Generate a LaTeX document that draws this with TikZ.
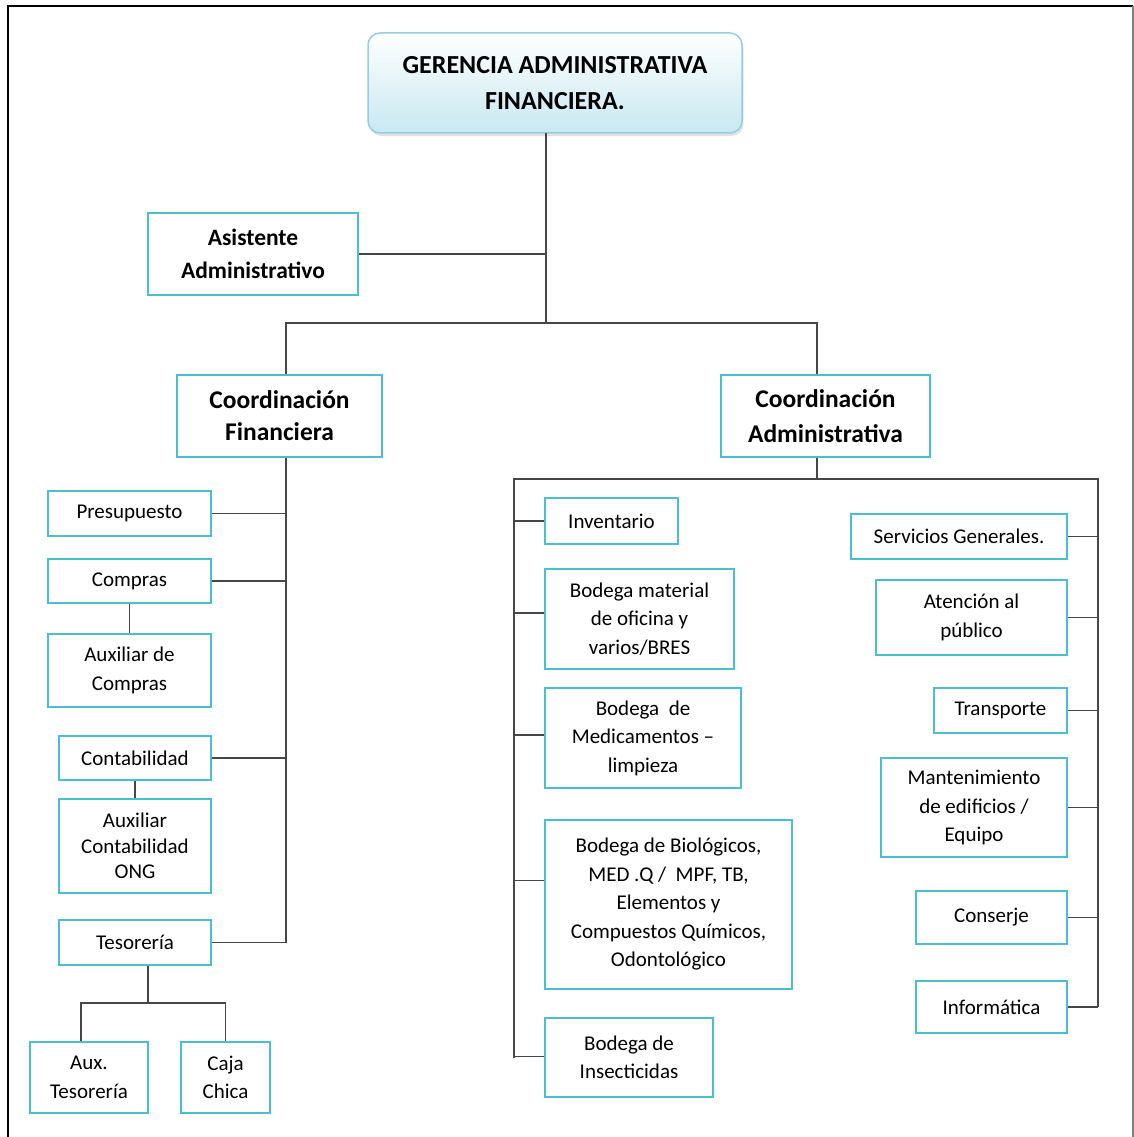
\documentclass[tikz,border=0pt]{standalone}
\usepackage{fontspec}
\setmainfont{Carlito}
\usetikzlibrary{shadows}
\definecolor{cajaazul}{RGB}{75,190,210}
\definecolor{lineagris}{RGB}{70,70,70}
\definecolor{cieloclaro}{RGB}{200,232,241}
\definecolor{bordeclaro}{RGB}{150,205,225}
\tikzset{>=stealth,
  caja/.style 2 args={draw=cajaazul, line width=2.6pt, fill=white, inner sep=0pt,
    minimum width=#1pt, minimum height=#2pt, align=center,
    font=\fontsize{21}{28.5}\selectfont},
  cajabold/.style={font=\fontsize{23.5}{33}\selectfont\bfseries},
  raiz/.style={draw=bordeclaro, line width=1.5pt, rounded corners=12pt,
    top color=white, bottom color=cieloclaro, inner sep=0pt,
    minimum width=374pt, minimum height=100pt, align=center,
    drop shadow={shadow xshift=1.5pt, shadow yshift=-3pt, fill=gray!45},
    font=\fontsize{26}{36}\selectfont\bfseries},
  linea/.style={draw=lineagris, line width=1.5pt}}

\begin{document}
\begin{tikzpicture}[x=1pt, y=-1pt]
\useasboundingbox (0,0) rectangle (1134,1137);
\draw[line width=2pt] (8,1137) -- (8,6) -- (1133,6);
\draw[gray, line width=1.5pt] (1133,6) -- (1133,1137);

\node[raiz] (gaf) at (555,83) {GERENCIA ADMINISTRATIVA\\FINANCIERA.};
\node[caja={210}{82}, cajabold] (asis) at (253,254) {Asistente\\Administrativo};
\node[caja={205}{82}, font=\fontsize{25.5}{32}\selectfont\bfseries] (cf) at (279.5,416) {Coordinación\\Financiera};
\node[caja={209}{82}, font=\fontsize{25.5}{35}\selectfont\bfseries] (ca) at (825.5,416) {Coordinación\\Administrativa};

% financiera
\node[caja={163}{45}] (presu) at (129.5,513.5) {Presupuesto};
\node[caja={163}{44}] (comp) at (129.5,581) {Compras};
\node[caja={163}{73}] (auxc) at (129.5,670.5) {Auxiliar de\\Compras};
\node[caja={152}{44}] (conta) at (135,758) {Contabilidad};
\node[caja={152}{94}, font=\fontsize{21}{25.5}\selectfont] (auxcon) at (135,846) {Auxiliar\\Contabilidad\\ONG};
\node[caja={152}{45}] (teso) at (135,942.5) {Tesorería};
\node[caja={118}{71}] (auxt) at (89,1077.5) {Aux.\\Tesorería};
\node[caja={89}{71}] (caja) at (225.5,1077.5) {Caja\\Chica};

% administrativa
\node[caja={133}{46}] (inv) at (611.5,521) {Inventario};
\node[caja={189}{100}] (bmat) at (639.5,619) {Bodega material\\de oficina y\\varios/BRES};
\node[caja={196}{100}] (bmed) at (643,738) {Bodega\ \ de\\Medicamentos --\\limpieza};
\node[caja={247}{169}] (bbio) at (668.5,904.5) {Bodega de Biológicos,\\MED .Q /\ \ MPF, TB,\\Elementos y\\Compuestos Químicos,\\Odontológico};
\node[caja={168}{79}] (bins) at (629,1057.5) {Bodega de\\Insecticidas};
\node[caja={216}{45}] (serv) at (959,536.5) {Servicios Generales.};
\node[caja={191}{75}] (aten) at (971.5,617.5) {Atención al\\público};
\node[caja={133}{45}] (trans) at (1000.5,710.5) {Transporte};
\node[caja={186}{99}] (mant) at (974,807.5) {Mantenimiento\\de edificios /\\Equipo};
\node[caja={151}{53}] (cons) at (991.5,917.5) {Conserje};
\node[caja={151}{52}] (info) at (991.5,1007) {Informática};

\coordinate (gbus) at (546,133);
\coordinate (lbus) at (286,323);
\coordinate (rbus) at (817,323);
\coordinate (lriel) at (514,479);
\coordinate (rriel) at (1098,479);
\coordinate (tfork) at (148,1003);

\draw[linea] (gbus) -- (gbus |- lbus);
\draw[linea] (asis.east) -- (asis.east -| gbus);
\draw[linea] (lbus |- cf.north) -- (lbus) -- (rbus) -- (rbus |- ca.north);
\draw[linea] (lbus |- cf.south) -- (lbus |- teso.east) -- (teso.east);
\foreach \n in {presu,comp,conta}
  \draw[linea] (\n.east) -- (\n.east -| lbus);
\draw[linea] (comp.south) -- (auxc.north);
\draw[linea] (conta.south) -- (auxcon.north);
\draw[linea] (tfork |- teso.south) -- (tfork);
\draw[linea] ([xshift=-8pt]auxt.north) |- (tfork) -| (caja.north);
\draw[linea] (rbus |- ca.south) -- (rbus |- lriel);
\draw[linea] (lriel |- bins.west) -- (lriel) -- (rriel) -- (rriel |- info.east);
\foreach \n/\d in {inv/0,bmat/6,bmed/3,bbio/24,bins/1}
  \draw[linea] ([yshift=\d pt]\n.west) -- ([yshift=\d pt]\n.west -| lriel);
\foreach \n in {serv,aten,trans,mant,cons,info}
  \draw[linea] (\n.east) -- (\n.east -| rriel);
\end{tikzpicture}
\end{document}
